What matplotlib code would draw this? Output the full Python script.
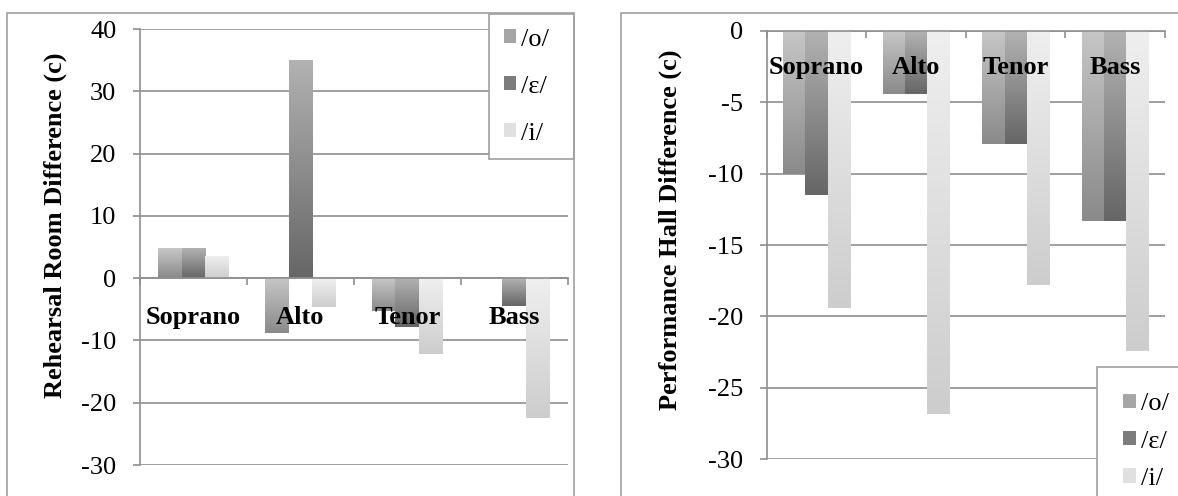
import numpy as np
import matplotlib.pyplot as plt
from matplotlib.patches import Rectangle, Patch
from matplotlib.colors import to_rgb

plt.rcParams['font.family'] = ['Liberation Serif', 'DejaVu Serif']
plt.rcParams['axes.unicode_minus'] = False

# --- data ---
categories = ['Soprano', 'Alto', 'Tenor', 'Bass']
vowels = ['/o/', '/ε/', '/i/']

rehearsal_o = [4.8, -8.8, -5.2, 0.0]
rehearsal_eps = [4.8, 35.0, -7.9, -4.4]
rehearsal_i = [3.4, -4.6, -12.1, -22.5]

hall_o = [-10.0, -4.4, -7.9, -13.3]
hall_eps = [-11.5, -4.4, -7.9, -13.3]
hall_i = [-19.4, -26.8, -17.8, -22.4]

# gradient colours per vowel (top, bottom)
shades = [('#c6c6c6', '#8a8a8a'), ('#b2b2b2', '#666666'), ('#efefef', '#cdcdcd')]
solid = ['#a6a6a6', '#7c7c7c', '#e0e0e0']
grey = '#8f8f8f'

W, H = 1178, 496
fig = plt.figure(figsize=(W / 100, H / 100), dpi=100)

# outer frames of the two charts
fig.patches.append(Rectangle((7 / W, -0.1), (574 - 7) / W, 1.1 - 13 / H,
                             transform=fig.transFigure, fill=False,
                             edgecolor='#a0a0a0', lw=1.2))
fig.patches.append(Rectangle((621 / W, -0.1), 0.6, 1.1 - 13 / H,
                             transform=fig.transFigure, fill=False,
                             edgecolor='#a0a0a0', lw=1.2))

ax1 = fig.add_axes([140 / W, 1 - 465 / H, 427.7 / W, 436 / H])
ax2 = fig.add_axes([766.7 / W, 1 - 459.3 / H, 398.3 / W, 428.6 / H])


def gradient_bars(ax, series):
    x = np.arange(len(categories))
    bw = 1 / 4.5
    for k, vals in enumerate(series):
        bars = ax.bar(x + (k - 1) * bw, vals, bw, facecolor='none',
                      edgecolor='none')
        top, bot = np.array(to_rgb(shades[k][0])), np.array(to_rgb(shades[k][1]))
        t = np.linspace(0, 1, 128)[:, None]
        img = (bot + (top - bot) * t)[:, None, :]
        for p in bars:
            if p.get_height() == 0:
                continue
            y0 = min(p.get_y(), p.get_y() + p.get_height())
            y1 = max(p.get_y(), p.get_y() + p.get_height())
            ax.imshow(img, extent=[p.get_x(), p.get_x() + p.get_width(), y0, y1],
                      origin='lower', aspect='auto', zorder=1,
                      interpolation='bilinear')


def style(ax, ylim, ystep, ylabel, label_xy, xpad):
    ax.set_xlim(-0.5, len(categories) - 0.5)
    ax.set_ylim(*ylim)
    ax.set_yticks(np.arange(ylim[0], ylim[1] + ystep / 2, ystep))
    for v in ax.get_yticks():
        ax.axhline(v, color=grey, lw=1.2, zorder=0.5)
    for s in ['top', 'right']:
        ax.spines[s].set_visible(False)
    ax.spines['left'].set_color(grey)
    ax.spines['left'].set_linewidth(1.2)
    ax.spines['bottom'].set_position(('data', 0))
    ax.spines['bottom'].set_color(grey)
    ax.spines['bottom'].set_linewidth(1.2)
    ax.set_xticks(np.arange(len(categories)))
    ax.set_xticklabels(categories, fontsize=19, fontweight='bold')
    ax.set_xticks(np.arange(len(categories) + 1) - 0.5, minor=True)
    ax.tick_params(axis='x', which='major', length=0, pad=xpad)
    ax.tick_params(axis='x', which='minor', length=5, width=1.2, color=grey,
                   direction='out')
    ax.tick_params(axis='y', length=5, width=1.2, color=grey, labelsize=19,
                   pad=12)
    ax.set_ylabel(ylabel, fontsize=19, fontweight='bold')
    ax.yaxis.set_label_coords(*label_xy)
    ax.patch.set_alpha(0)


gradient_bars(ax1, [rehearsal_o, rehearsal_eps, rehearsal_i])
style(ax1, (-30, 40), 10, 'Rehearsal Room Difference (c)', (-0.171, 0.55), 20)

gradient_bars(ax2, [hall_o, hall_eps, hall_i])
style(ax2, (-30, 0), 5, 'Performance Hall Difference (c)', (-0.213, 0.535), 18)

handles = [Patch(facecolor=c, edgecolor='none') for c in solid]
leg_kw = dict(loc='upper left', bbox_transform=fig.transFigure, fontsize=19,
              handlelength=0.46, handleheight=0.46, handletextpad=0.2,
              borderaxespad=0, fancybox=False, edgecolor='#a0a0a0',
              framealpha=1)
l1 = ax1.legend(handles, vowels,
                bbox_to_anchor=(489 / W, 1 - 150 / H, 85 / W, 136 / H),
                mode='expand', borderpad=0.55, labelspacing=0.95, **leg_kw)
l1.get_frame().set_linewidth(1.2)
l2 = ax2.legend(handles, vowels, bbox_to_anchor=(1097 / W, 1 - 367 / H),
                borderpad=1.0, labelspacing=0.58, **leg_kw)
l2.get_frame().set_linewidth(1.2)

fig.savefig('out.png', dpi=100)
